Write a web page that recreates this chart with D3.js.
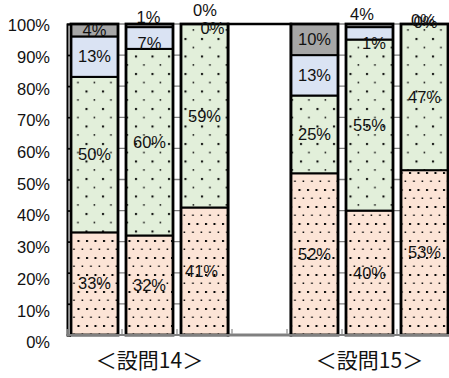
<!DOCTYPE html>
<html>
<head>
<meta charset="utf-8">
<script src="https://cdn.jsdelivr.net/npm/d3@7"></script>
<style>
  body { margin: 0; background: #fff; }
  svg { display: block; }
</style>
</head>
<body>
<svg id="chart" width="449" height="378"></svg>
<script>
// ---- data ----
const categories = ["14-1", "14-2", "14-3", "sep", "15-1", "15-2", "15-3"];
const seriesKeys = ["s1", "s2", "s3", "s4"];
const s1 = [33, 32, 41, null, 52, 40, 53];
const s2 = [50, 60, 59, null, 25, 55, 47];
const s3 = [13, 7, 0, null, 13, 4, 0];
const s4 = [4, 1, 0, null, 10, 1, 0];
const yTickValues = [0, 10, 20, 30, 40, 50, 60, 70, 80, 90, 100];
const yTickLabels = ["0%", "10%", "20%", "30%", "40%", "50%", "60%", "70%", "80%", "90%", "100%"];
const groupLabels = ["＜設問14＞", "＜設問15＞"];
const groupAnchors = ["14-2", "15-2"];
const separatorCategory = "sep";

// ---- layout ----
const plot = { left: 67, right: 452, top: 24, bottom: 335 };
const fontLatin = "'Liberation Sans', Arial, sans-serif";
const fontCJK = "'Noto Sans CJK JP', 'Noto Sans CJK SC', sans-serif";
const labelSize = 16.5;

const fills = { s1: "#fce4d6", s2: "#e2efda", s3: "#dae3f3", s4: "#a6a6a6" };
const dotted = { s1: "dotsPeach", s2: "dotsGreen" };

// hand-placed label offsets (px) for crowded segments at the bar tops
const labelNudge = {
  "14-2|s3": [0, 5],
  "14-2|s4": [-1, -8.5],
  "14-3|s1": [-3, 0],
  "14-3|s3": [8, 4],
  "14-3|s4": [0.5, -14],
  "15-2|s3": [-7.5, -19],
  "15-2|s4": [4.5, 18],
  "15-3|s3": [-1.5, -3.5],
  "15-3|s4": [1, -1.5]
};

const rows = categories.map((c, i) => ({ cat: c, s1: s1[i], s2: s2[i], s3: s3[i], s4: s4[i] }));
const barRows = rows.filter(r => r.cat !== separatorCategory);

const pad = 0.1455;
const x = d3.scaleBand().domain(categories).range([plot.left, plot.right])
  .paddingInner(pad).paddingOuter(pad / 2);
const y = d3.scaleLinear().domain([0, 100]).range([plot.bottom, plot.top]);
// tick labels sit on a slightly wider spread than the gridlines
const yLabel = d3.scaleLinear().domain([0, 100]).range([342.5, 25.5]);
const bw = x.bandwidth();

const svg = d3.select("#chart");

// ---- fill patterns ----
const defs = svg.append("defs");
function dotPattern(id, bg, w, h, dots) {
  const p = defs.append("pattern").attr("id", id).attr("patternUnits", "userSpaceOnUse")
    .attr("width", w).attr("height", h);
  p.append("rect").attr("width", w).attr("height", h).attr("fill", bg);
  dots.forEach(d => p.append("rect").attr("x", d[0]).attr("y", d[1])
    .attr("width", d[2]).attr("height", d[2]).attr("fill", "#000"));
}
dotPattern("dotsPeach", fills.s1, 8.5, 17, [[1, 2, 2], [5.2, 10.5, 1.5]]);
dotPattern("dotsGreen", fills.s2, 16.5, 17.5, [[3, 3, 2], [11.2, 11.7, 1.5]]);

// ---- gridlines ----
svg.append("g").selectAll("line").data(yTickValues.filter(v => v > 0)).join("line")
  .attr("x1", plot.left).attr("x2", plot.right)
  .attr("y1", d => y(d)).attr("y2", d => y(d))
  .attr("stroke", "#7f7f7f").attr("stroke-width", 1.3);

// ---- blank separator between the two question groups ----
const sepIdx = categories.indexOf(separatorCategory);
const sepX0 = x(categories[sepIdx - 1]) + bw;
const sepX1 = x(categories[sepIdx + 1]);
svg.append("rect").attr("x", sepX0).attr("y", y(100))
  .attr("width", sepX1 - sepX0).attr("height", y(0) - y(100))
  .attr("fill", "#fff").attr("stroke", "#000").attr("stroke-width", 2.5);

// ---- stacked bars ----
const stacked = d3.stack().keys(seriesKeys)(barRows);
const segs = [];
stacked.forEach(layer => layer.forEach(d => segs.push({ key: layer.key, cat: d.data.cat, y0: d[0], y1: d[1], v: d.data[layer.key] })));

svg.append("g").selectAll("rect").data(segs.filter(s => s.v > 0)).join("rect")
  .attr("x", d => x(d.cat)).attr("width", bw)
  .attr("y", d => y(d.y1)).attr("height", d => y(d.y0) - y(d.y1))
  .attr("fill", d => dotted[d.key] ? `url(#${dotted[d.key]})` : fills[d.key])
  .attr("stroke", "#000").attr("stroke-width", 2);

// outer bar outline
svg.append("g").selectAll("rect").data(barRows).join("rect")
  .attr("x", d => x(d.cat)).attr("width", bw)
  .attr("y", y(100)).attr("height", y(0) - y(100))
  .attr("fill", "none").attr("stroke", "#000").attr("stroke-width", 2.8);

// ---- value labels ----
svg.append("g").selectAll("text").data(segs).join("text")
  .attr("x", d => x(d.cat) + bw / 2 + (labelNudge[d.cat + "|" + d.key] || [0, 0])[0])
  .attr("y", d => (y(d.y0) + y(d.y1)) / 2 + (labelNudge[d.cat + "|" + d.key] || [0, 0])[1] + labelSize * 0.35)
  .attr("text-anchor", "middle")
  .attr("font-family", fontLatin).attr("font-size", labelSize)
  .attr("fill", "#111")
  .text(d => d.v + "%");

// ---- axes ----
const yAxis = svg.append("g").attr("transform", `translate(${plot.left},0)`)
  .call(d3.axisLeft(y).tickValues(yTickValues).tickSize(-4).tickFormat(""));
yAxis.select(".domain").attr("stroke", "#000").attr("stroke-width", 2);
yAxis.selectAll(".tick line").attr("stroke", "#000").attr("stroke-width", 1.5);

svg.append("g").selectAll("text").data(yTickValues).join("text")
  .attr("x", 50).attr("y", d => yLabel(d) + labelSize * 0.35)
  .attr("text-anchor", "end")
  .attr("font-family", fontLatin).attr("font-size", labelSize)
  .attr("fill", "#111")
  .text((d, i) => yTickLabels[i]);

// category axis with boundary ticks
const step = x.step();
const bounds = categories.map(c => x(c) - step * pad / 2).concat([plot.right]);
svg.append("g").selectAll("line").data(bounds).join("line")
  .attr("x1", d => d).attr("x2", d => d)
  .attr("y1", plot.bottom).attr("y2", plot.bottom - 6)
  .attr("stroke", "#a0a0a0").attr("stroke-width", 1.5);
svg.append("line").attr("x1", plot.left - 1).attr("x2", plot.right)
  .attr("y1", plot.bottom).attr("y2", plot.bottom)
  .attr("stroke", "#808080").attr("stroke-width", 2.2);

// group titles
svg.append("g").selectAll("text").data(groupLabels).join("text")
  .attr("x", (d, i) => x(groupAnchors[i]) + bw / 2)
  .attr("y", 368)
  .attr("text-anchor", "middle")
  .attr("font-family", fontCJK).attr("font-size", 21)
  .attr("fill", "#111")
  .text(d => d);
</script>
</body>
</html>
